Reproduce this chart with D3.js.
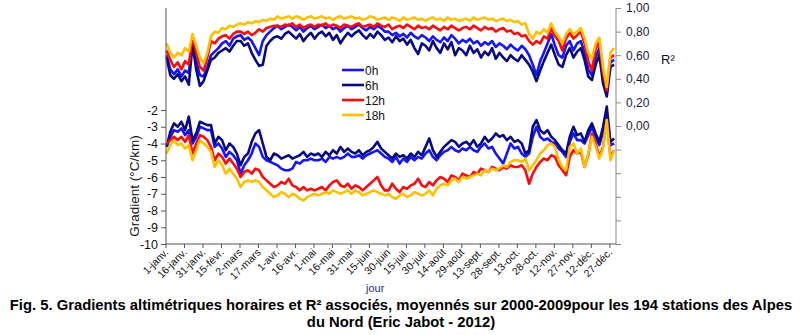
<!DOCTYPE html>
<html><head><meta charset="utf-8">
<script src="https://cdn.jsdelivr.net/npm/d3@7"></script>
<style>body{margin:0;background:#fff}svg text{font-family:Arial,"Liberation Sans",sans-serif}</style>
</head><body><svg id="c" width="800" height="335"></svg>
<script>
const tickLabels = ["1-janv.","16-janv.","31-janv.","15-févr.","2-mars","17-mars","1-avr.","16-avr.","1-mai","16-mai","31-mai","15-juin","30-juin","15-juil.","30-juil.","14-août","29-août","13-sept.","28-sept.","13-oct.","28-oct.","12-nov.","27-nov.","12-déc.","27-déc."];
const seriesNames = ["0h","6h","12h","18h"];
const seriesColors = ["#1414ff","#0a0a80","#ff0a0a","#ffc000"];
const leftTicks = [-2,-3,-4,-5,-6,-7,-8,-9,-10];
const rightTicks = [-1,-0.8,-0.6,-0.4,-0.2,0,0.2,0.4,0.6,0.8,1];
// day-of-year of each sample (every 3rd day)
const days = d3.range(0, 364, 3);

const r2_0h = [0.60,0.48,0.44,0.48,0.42,0.47,0.45,0.72,0.55,0.43,
0.42,0.50,0.60,0.63,0.66,0.70,0.72,0.68,0.74,0.76,
0.77,0.73,0.75,0.72,0.66,0.60,0.72,0.77,0.80,0.83,
0.85,0.82,0.84,0.86,0.84,0.81,0.84,0.80,0.83,0.85,
0.82,0.84,0.86,0.83,0.85,0.82,0.84,0.80,0.83,0.85,
0.82,0.84,0.86,0.83,0.81,0.84,0.82,0.85,0.83,0.80,
0.80,0.77,0.79,0.76,0.78,0.75,0.79,0.76,0.74,0.77,
0.75,0.72,0.76,0.73,0.71,0.75,0.72,0.77,0.74,0.70,
0.73,0.71,0.74,0.70,0.72,0.68,0.71,0.69,0.72,0.67,
0.70,0.68,0.65,0.69,0.66,0.64,0.68,0.65,0.60,0.52,
0.43,0.55,0.62,0.70,0.78,0.68,0.60,0.58,0.68,0.72,
0.64,0.70,0.72,0.62,0.48,0.43,0.58,0.66,0.40,0.27,
0.54,0.56];
const r2_6h = [0.58,0.43,0.40,0.44,0.38,0.42,0.35,0.69,0.48,0.34,
0.38,0.47,0.56,0.58,0.62,0.64,0.66,0.63,0.68,0.72,
0.72,0.68,0.70,0.62,0.56,0.51,0.52,0.68,0.72,0.75,
0.76,0.74,0.78,0.80,0.77,0.74,0.78,0.72,0.76,0.79,
0.74,0.78,0.80,0.76,0.79,0.73,0.77,0.70,0.75,0.79,
0.76,0.79,0.81,0.77,0.74,0.78,0.75,0.80,0.77,0.73,
0.75,0.71,0.76,0.72,0.74,0.69,0.73,0.66,0.61,0.70,
0.68,0.64,0.72,0.66,0.62,0.70,0.65,0.71,0.60,0.66,
0.64,0.60,0.68,0.62,0.65,0.58,0.63,0.60,0.66,0.57,
0.62,0.58,0.55,0.60,0.57,0.55,0.60,0.56,0.52,0.46,
0.38,0.47,0.55,0.62,0.69,0.60,0.52,0.50,0.60,0.66,
0.58,0.63,0.66,0.56,0.42,0.39,0.52,0.60,0.36,0.25,
0.50,0.52];
const r2_12h = [0.64,0.56,0.50,0.54,0.48,0.55,0.52,0.76,0.62,0.50,
0.47,0.58,0.72,0.70,0.74,0.76,0.77,0.74,0.78,0.80,
0.80,0.78,0.80,0.77,0.79,0.82,0.80,0.83,0.84,0.85,
0.85,0.84,0.86,0.85,0.87,0.84,0.86,0.83,0.85,0.86,
0.84,0.86,0.85,0.87,0.84,0.86,0.85,0.83,0.86,0.85,
0.84,0.86,0.87,0.84,0.85,0.86,0.84,0.87,0.85,0.84,
0.86,0.82,0.84,0.85,0.83,0.86,0.84,0.82,0.85,0.83,
0.84,0.82,0.85,0.83,0.81,0.84,0.82,0.85,0.83,0.81,
0.83,0.84,0.82,0.85,0.83,0.81,0.84,0.82,0.83,0.80,
0.82,0.83,0.80,0.81,0.78,0.79,0.76,0.77,0.72,0.69,
0.72,0.70,0.76,0.74,0.83,0.76,0.72,0.64,0.74,0.79,
0.74,0.77,0.80,0.70,0.55,0.47,0.65,0.72,0.45,0.30,
0.58,0.60];
const r2_18h = [0.70,0.62,0.58,0.62,0.60,0.66,0.63,0.78,0.68,0.58,
0.53,0.62,0.76,0.80,0.79,0.83,0.82,0.85,0.84,0.86,
0.87,0.86,0.88,0.87,0.89,0.88,0.90,0.89,0.91,0.90,
0.93,0.91,0.92,0.93,0.91,0.93,0.92,0.90,0.92,0.93,
0.91,0.92,0.93,0.91,0.92,0.90,0.92,0.93,0.91,0.92,
0.93,0.91,0.92,0.90,0.91,0.93,0.92,0.90,0.91,0.92,
0.90,0.92,0.91,0.89,0.92,0.90,0.91,0.92,0.90,0.91,
0.89,0.91,0.92,0.90,0.91,0.89,0.92,0.90,0.91,0.89,
0.90,0.91,0.89,0.92,0.90,0.91,0.92,0.90,0.91,0.89,
0.90,0.91,0.89,0.90,0.88,0.89,0.86,0.87,0.78,0.74,
0.80,0.78,0.82,0.79,0.87,0.80,0.76,0.70,0.78,0.82,
0.78,0.80,0.83,0.74,0.62,0.57,0.70,0.75,0.50,0.33,
0.62,0.66];

const grad_0h = [-4.2,-3.6,-3.2,-3.3,-3.1,-3.5,-3.2,-4.0,-3.6,-3.0,
-3.1,-3.2,-3.2,-4.2,-4.0,-4.3,-4.8,-4.5,-4.7,-5.0,
-5.8,-5.3,-5.0,-4.6,-4.0,-4.2,-4.8,-5.0,-5.1,-5.2,
-5.3,-5.5,-5.6,-5.6,-5.5,-5.1,-5.2,-5.0,-5.0,-4.9,
-5.0,-5.0,-4.9,-5.1,-4.8,-4.9,-4.8,-4.9,-4.8,-4.6,
-4.8,-4.8,-4.7,-4.9,-4.7,-4.6,-4.5,-4.4,-4.6,-4.8,
-4.9,-5.1,-4.8,-5.2,-4.9,-5.1,-4.8,-5.0,-4.8,-4.9,
-4.6,-4.4,-4.8,-5.0,-4.7,-4.5,-4.4,-4.2,-4.4,-4.5,
-4.3,-4.4,-4.2,-4.4,-4.5,-4.2,-4.0,-4.3,-4.2,-4.6,
-4.9,-5.2,-4.6,-4.0,-4.3,-4.2,-4.6,-4.8,-4.6,-3.6,
-3.0,-3.6,-3.8,-3.7,-3.9,-4.0,-4.3,-4.5,-4.8,-3.9,
-3.4,-3.8,-3.8,-4.0,-3.5,-3.0,-3.6,-4.1,-3.3,-2.2,
-4.1,-4.0];
const grad_6h = [-4.2,-3.3,-2.8,-3.0,-2.7,-3.2,-2.4,-3.8,-3.4,-2.7,
-2.8,-2.9,-2.9,-4.0,-3.6,-3.8,-4.4,-4.0,-4.2,-4.6,
-5.3,-4.8,-4.6,-3.9,-3.4,-3.2,-4.0,-4.8,-5.0,-4.6,
-4.7,-4.9,-4.8,-4.7,-4.9,-4.8,-4.7,-4.5,-4.8,-4.6,
-4.7,-4.6,-4.8,-4.5,-4.7,-4.4,-4.6,-4.2,-4.5,-4.3,
-4.5,-4.6,-4.4,-4.7,-4.5,-4.4,-4.2,-3.9,-4.3,-4.5,
-4.7,-4.9,-4.6,-4.8,-4.7,-4.9,-4.6,-4.8,-4.5,-4.7,
-4.2,-3.7,-4.4,-4.8,-4.5,-4.2,-4.0,-3.8,-3.9,-4.2,
-4.0,-3.9,-4.1,-3.8,-4.2,-4.0,-3.6,-3.9,-3.7,-3.4,
-3.6,-3.5,-3.8,-3.6,-3.9,-3.8,-4.0,-4.6,-4.4,-3.0,
-2.6,-3.2,-3.4,-3.2,-3.6,-3.8,-4.1,-4.4,-4.6,-3.6,
-3.0,-3.5,-3.4,-3.9,-3.2,-2.8,-3.4,-3.9,-3.0,-1.8,
-3.9,-3.7];
const grad_12h = [-4.0,-3.8,-3.6,-3.8,-3.6,-3.9,-3.5,-4.6,-4.0,-3.5,
-3.6,-3.8,-4.2,-5.0,-4.6,-4.8,-5.2,-4.9,-5.2,-5.5,
-6.0,-5.7,-5.6,-5.8,-5.5,-5.6,-6.0,-6.2,-6.4,-6.6,
-6.5,-6.3,-6.4,-6.1,-6.5,-6.6,-6.8,-6.6,-6.8,-6.7,
-6.8,-6.7,-6.6,-6.8,-6.5,-6.3,-6.2,-6.5,-6.6,-6.4,
-6.7,-6.5,-6.6,-6.8,-6.6,-6.4,-6.2,-6.0,-6.5,-6.8,
-6.8,-6.4,-6.7,-6.9,-6.6,-6.7,-6.5,-6.4,-6.1,-6.5,
-6.6,-6.3,-6.5,-6.2,-6.0,-6.1,-6.3,-5.9,-6.0,-6.2,
-5.8,-5.9,-6.0,-5.7,-5.8,-5.5,-5.6,-5.7,-5.4,-5.5,
-5.6,-5.4,-5.5,-5.3,-5.4,-5.4,-5.3,-5.6,-6.4,-5.8,
-5.4,-5.1,-4.9,-5.0,-4.7,-4.8,-5.3,-5.6,-5.9,-4.8,
-4.4,-4.6,-4.5,-5.4,-4.7,-3.4,-4.0,-4.8,-4.2,-2.6,
-4.8,-4.4];
const grad_18h = [-4.6,-4.1,-3.8,-4.1,-4.0,-4.3,-4.1,-5.0,-4.4,-3.8,
-4.0,-4.2,-4.5,-5.4,-5.0,-5.3,-5.8,-5.5,-5.8,-6.1,
-6.6,-6.3,-6.2,-6.3,-6.2,-6.3,-6.6,-6.8,-7.0,-7.2,
-7.1,-6.9,-7.0,-7.2,-7.0,-7.1,-7.3,-7.4,-7.2,-7.1,
-7.0,-7.1,-7.0,-6.9,-7.0,-6.8,-6.9,-7.0,-6.9,-6.8,
-7.0,-6.8,-6.9,-7.1,-7.0,-6.9,-6.8,-6.9,-7.0,-7.1,
-7.0,-7.2,-7.3,-7.1,-7.0,-7.2,-7.1,-6.9,-7.0,-7.1,
-7.0,-6.8,-7.1,-6.7,-6.5,-6.4,-6.5,-6.2,-6.1,-6.3,
-6.0,-6.1,-6.0,-5.9,-5.8,-5.9,-5.6,-5.7,-5.5,-5.6,
-5.5,-5.3,-5.4,-5.1,-5.0,-5.0,-5.1,-4.9,-5.6,-5.3,
-5.0,-4.6,-4.4,-4.1,-4.0,-4.2,-5.0,-5.4,-5.6,-4.2,
-4.0,-4.6,-4.3,-5.4,-4.6,-3.6,-4.2,-4.9,-4.3,-2.6,
-5.0,-4.4];

const gradSeries = [grad_0h, grad_6h, grad_12h, grad_18h];
const r2Series = [r2_0h, r2_6h, r2_12h, r2_18h];

const svg = d3.select("#c");
const L = 166, R = 616, T = 8, B = 244;
const x = d3.scaleLinear().domain([0, 365]).range([L, R]);
const yL = d3.scaleLinear().domain([-10, 4]).range([B, 9.5]);
const yR = d3.scaleLinear().domain([-1, 1]).range([B, T]);

// series
const g = svg.append("g");
function drawSet(set, ys) {
  set.forEach((vals, k) => {
    const line = d3.line().x((d, i) => x(days[i] + 0.5)).y(d => ys(d)).curve(d3.curveLinear);
    g.append("path").datum(vals).attr("d", line)
      .attr("fill", "none").attr("stroke", seriesColors[k])
      .attr("stroke-width", 2.6).attr("stroke-linejoin", "round");
  });
}
drawSet(gradSeries, yL);
drawSet(r2Series, yR);

// left axis
const axL = svg.append("g").attr("transform", `translate(${L},0)`)
  .call(d3.axisLeft(yL).tickValues(leftTicks).tickSize(5).tickPadding(3).tickFormat(d => String(d)));
axL.select(".domain").remove();
axL.selectAll(".tick line").attr("stroke", "#555");
axL.selectAll("text").attr("font-size", 12.5).attr("fill", "#111");
svg.append("line").attr("x1", L).attr("x2", L).attr("y1", T).attr("y2", B).attr("stroke", "#555");

// right axis
const axR = svg.append("g").attr("transform", `translate(${R},0)`)
  .call(d3.axisRight(yR).tickValues(rightTicks).tickSize(5).tickPadding(5)
    .tickFormat(d => d >= -1e-9 ? d3.format(".2f")(Math.abs(d) < 1e-9 ? 0 : d).replace(".", ",") : ""));
axR.select(".domain").remove();
axR.selectAll(".tick line").attr("stroke", "#888");
axR.selectAll("text").attr("font-size", 12).attr("fill", "#1a1a3a");
svg.append("line").attr("x1", R).attr("x2", R).attr("y1", T).attr("y2", B).attr("stroke", "#888");
svg.append("text").attr("x", 661).attr("y", 64).attr("font-size", 13).attr("fill", "#111").text("R²");

// x axis
const tickDays = tickLabels.map((_, i) => i * 15);
svg.append("line").attr("x1", L).attr("x2", R).attr("y1", B).attr("y2", B).attr("stroke", "#555");
const xt = svg.append("g");
tickDays.forEach((d, i) => {
  xt.append("line").attr("x1", x(d)).attr("x2", x(d)).attr("y1", B).attr("y2", B + 4).attr("stroke", "#555");
  xt.append("text").attr("transform", `translate(${x(d) + 3},${B + 9}) rotate(-45)`)
    .attr("text-anchor", "end").attr("font-size", 10.5).attr("fill", "#111").text(tickLabels[i]);
});
svg.append("text").attr("x", 366).attr("y", 292).attr("font-size", 11).attr("fill", "#1f2f6f").text("jour");

// y title
svg.append("text").attr("transform", "translate(139,186) rotate(-90)").attr("text-anchor", "middle")
  .attr("font-size", 13.5).attr("fill", "#111").text("Gradient (°C/km)");

// legend
seriesNames.forEach((n, i) => {
  const yy = 70 + i * 15;
  svg.append("line").attr("x1", 342).attr("x2", 364).attr("y1", yy).attr("y2", yy)
    .attr("stroke", seriesColors[i]).attr("stroke-width", 2.6);
  svg.append("text").attr("x", 365).attr("y", yy + 4.5).attr("font-size", 12).attr("fill", "#111").text(n);
});

// caption
svg.append("text").attr("x", 401).attr("y", 310).attr("text-anchor", "middle").attr("font-size", 14.8)
  .attr("font-weight", "bold").attr("fill", "#000")
  .text("Fig. 5. Gradients altimétriques horaires et R² associés, moyennés sur 2000-2009pour les 194 stations des Alpes");
svg.append("text").attr("x", 401).attr("y", 327).attr("text-anchor", "middle").attr("font-size", 14.8)
  .attr("font-weight", "bold").attr("fill", "#000").text("du Nord (Eric Jabot - 2012)");
</script></body></html>
